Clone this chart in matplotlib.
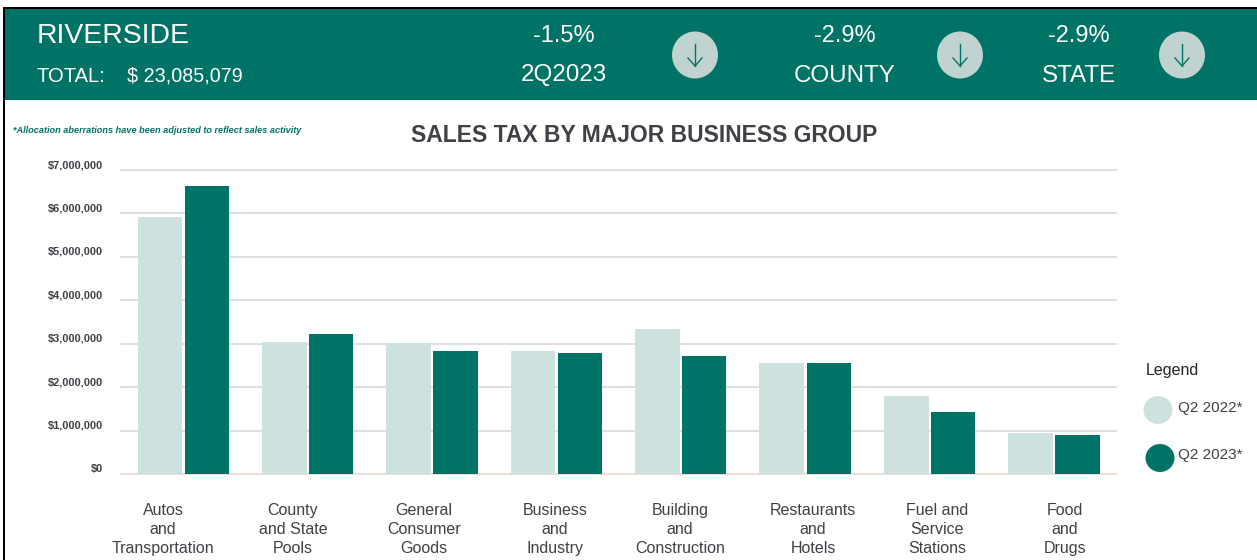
"""Riverside sales tax by major business group."""
import matplotlib
matplotlib.use("Agg")
import matplotlib.pyplot as plt
from matplotlib.patches import Ellipse, Rectangle
import numpy as np

categories = ["Autos\nand\nTransportation", "County\nand State\nPools", "General\nConsumer\nGoods",
              "Business\nand\nIndustry", "Building\nand\nConstruction", "Restaurants\nand\nHotels",
              "Fuel and\nService\nStations", "Food\nand\nDrugs"]
q2_2022 = [5920000, 3040000, 3020000, 2830000, 3340000, 2560000, 1800000, 950000]
q2_2023 = [6630000, 3220000, 2830000, 2790000, 2720000, 2560000, 1430000, 900000]
y_ticks = [0, 1000000, 2000000, 3000000, 4000000, 5000000, 6000000, 7000000]
series_names = ["Q2 2022*", "Q2 2023*"]
header_stats = [("-1.5%", "2Q2023"), ("-2.9%", "COUNTY"), ("-2.9%", "STATE")]

TEAL = "#007367"
LIGHT = "#CDE2DF"
DARK_TEXT = "#404048"
W, H = 1257, 560
plt.rcParams["font.family"] = "Liberation Sans"

fig = plt.figure(figsize=(W / 100, H / 100), dpi=100)

# pixel-coordinate overlay for the header, legend and notes
bg = fig.add_axes([0, 0, 1, 1])
bg.set_xlim(0, W)
bg.set_ylim(H, 0)
bg.axis("off")
bg.add_patch(Rectangle((4, 9), W - 4, 91, color=TEAL, lw=0))
bg.add_patch(Rectangle((3, 7), W - 3, 2, color="black", lw=0))
bg.add_patch(Rectangle((3, 7), 2, H - 7, color="black", lw=0))

bg.text(37, 36, "RIVERSIDE", color="white", fontsize=20.4, va="center")
bg.text(36.5, 77, "TOTAL:", color="white", fontsize=14.5, va="center")
bg.text(127, 76.5, "$ 23,085,079", color="white", fontsize=14.2, va="center")

for (pct, name), cx, ax_x in zip(header_stats, [564, 844.5, 1079], [695, 960, 1182]):
    bg.text(cx, 36, pct, color="white", fontsize=17, va="center", ha="center")
    bg.text(cx, 75.5, name, color="white", fontsize=17.4, va="center", ha="center")
    bg.add_patch(Ellipse((ax_x, 55), 46, 47, color="#C1D3D0", lw=0))
    bg.plot([ax_x, ax_x], [44, 66], color=TEAL, lw=1.0)
    bg.plot([ax_x - 7, ax_x, ax_x + 7], [58, 66, 58], color=TEAL, lw=1.0)

bg.text(13, 130.5, "*Allocation aberrations have been adjusted to reflect sales activity",
        color=TEAL, fontsize=6.6, fontweight="bold", fontstyle="italic", va="center")
bg.text(644.5, 135, "SALES TAX BY MAJOR BUSINESS GROUP", color=DARK_TEXT, fontsize=16.45,
        fontweight="bold", va="center", ha="center")

bg.text(1146, 370.5, "Legend", color="#222228", fontsize=11.5, va="center")
bg.add_patch(Ellipse((1158, 410), 29, 28, color=LIGHT, lw=0))
bg.add_patch(Ellipse((1160, 458), 29, 28, color=TEAL, lw=0))
bg.text(1178, 408, series_names[0], color=DARK_TEXT, fontsize=11, va="center")
bg.text(1178, 455, series_names[1], color=DARK_TEXT, fontsize=11, va="center")

# chart axes: x 121-1116 px, $0 at y=474 px, $7M at y=170 px
ax = fig.add_axes([121 / W, 1 - 474 / H, 995 / W, 304 / H])
ax.patch.set_alpha(0)
x = np.arange(len(categories))
ax.bar(x - 0.187, q2_2022, width=0.36, color=LIGHT, zorder=3)
ax.bar(x + 0.19, q2_2023, width=0.355, color=TEAL, zorder=3)
ax.set_xlim(-0.5, len(categories) - 0.5)
ax.set_ylim(0, 7000000)
ax.set_yticks(y_ticks)
ax.set_yticklabels([f"${v:,}" for v in y_ticks], fontsize=7.9, fontweight="bold", color=DARK_TEXT)
# labels sit above their gridlines in the original
for lab in ax.get_yticklabels():
    lab.set_va("bottom")

# category labels are not centred under the bars, they drift left of them
label_px = [163, 293, 424, 555, 680, 813, 937, 1065]
ax.set_xticks([(p - 121) / (995 / len(categories)) - 0.5 for p in label_px])
ax.set_xticklabels(categories, fontsize=11.5, color=DARK_TEXT, linespacing=1.33)
ax.tick_params(axis="both", length=0)
ax.tick_params(axis="x", pad=21)
ax.tick_params(axis="y", pad=13)
ax.grid(axis="y", color="#DCDCDC", lw=1.3, zorder=0, clip_on=False)
ax.grid(axis="x", visible=False)
ax.yaxis.get_gridlines()[0].set_visible(False)
ax.set_axisbelow(True)
for s in ax.spines.values():
    s.set_visible(False)
ax.spines["bottom"].set_visible(True)
ax.spines["bottom"].set_color("#EBDCD3")
ax.spines["bottom"].set_linewidth(1.3)
ax.spines["bottom"].set_zorder(1)

fig.savefig("out.png", dpi=100)
